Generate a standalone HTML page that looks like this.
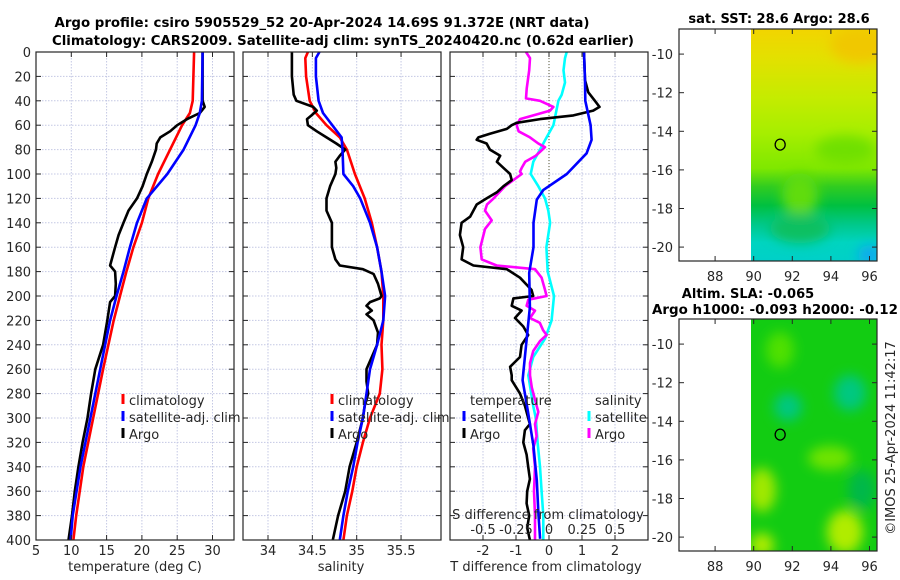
<!DOCTYPE html>
<html><head><meta charset="utf-8"><style>
body{margin:0;background:#fff;}
svg{display:block;font-family:"DejaVu Sans","Liberation Sans",sans-serif;}
</style></head><body>
<svg id="fig" width="900" height="580" viewBox="0 0 900 580" xmlns="http://www.w3.org/2000/svg">
<defs>
<linearGradient id="sstGrad" x1="0" y1="0" x2="0" y2="1">
<stop offset="0" stop-color="#f2d400"/><stop offset="0.12" stop-color="#e4e000"/>
<stop offset="0.3" stop-color="#c4ec00"/><stop offset="0.45" stop-color="#a6ee00"/>
<stop offset="0.6" stop-color="#7fe800"/><stop offset="0.68" stop-color="#30cc20"/>
<stop offset="0.76" stop-color="#00c040"/><stop offset="0.84" stop-color="#00c888"/>
<stop offset="0.92" stop-color="#00d4c0"/><stop offset="1" stop-color="#00d0c8"/>
</linearGradient>
<filter id="blur"><feGaussianBlur stdDeviation="6"/></filter>
<clipPath id="sstClip"><rect x="751" y="29" width="126" height="232"/></clipPath>
<clipPath id="slaClip"><rect x="751" y="319" width="126" height="232"/></clipPath>
</defs>
</svg>
<script>
// ---- data (depth in m) ----
const tDepth = [0,40,50,60,80,100,120,140,160,180,200,220,260,300,340,380,400];
const tClim  = [27.4,27.2,26.8,25.7,24.0,22.3,20.9,20.0,18.8,17.8,16.9,16.0,14.5,13.1,11.7,10.7,10.3];
const tSatDepth = [0,40,50,60,80,100,120,140,160,180,200,220,260,300,340,380,400];
const tSat   = [28.6,28.5,28.2,27.6,25.9,23.6,20.7,19.3,18.3,17.4,16.4,15.5,14.1,12.7,11.3,10.2,9.9];
const tArgoDepth = [0,40,45,50,55,60,65,70,75,80,90,100,110,120,130,140,150,160,175,180,190,200,205,220,240,260,280,300,320,340,360,380,400];
const tArgo  = [28.6,28.6,28.9,28.2,26.4,25.0,24.0,22.6,22.1,22.0,21.4,20.7,20.1,19.3,18.1,17.4,16.7,16.2,15.5,16.2,16.3,16.2,15.5,15.1,14.5,13.4,12.8,12.3,11.6,11.0,10.5,10.1,9.6];

const sClimDepth = [0,5,20,40,50,60,70,80,100,120,140,160,180,200,220,240,260,280,300,320,340,360,380,400];
const sClim = [34.45,34.42,34.43,34.47,34.54,34.66,34.81,34.89,34.98,35.09,35.17,35.23,35.28,35.30,35.30,35.28,35.29,35.26,35.15,35.07,35.00,34.95,34.89,34.85];
const sSatDepth = [0,5,20,40,50,70,80,100,110,120,140,160,180,200,220,240,260,280,300,320,340,360,380,400];
const sSat = [34.58,34.54,34.54,34.57,34.62,34.83,34.84,34.85,34.96,35.04,35.15,35.23,35.28,35.32,35.30,35.23,35.15,35.11,35.07,35.01,34.96,34.90,34.85,34.81];
const sArgoDepth = [0,20,35,40,45,48,52,55,60,65,70,75,80,85,90,95,100,110,120,130,140,160,170,175,178,182,190,200,202,205,208,212,215,220,230,240,250,260,270,280,290,300,320,340,360,380,400];
const sArgo = [34.27,34.27,34.29,34.32,34.51,34.55,34.49,34.44,34.45,34.55,34.66,34.77,34.87,34.81,34.76,34.77,34.76,34.70,34.66,34.66,34.72,34.72,34.76,34.81,35.07,35.19,35.24,35.28,35.26,35.15,35.11,35.17,35.11,35.19,35.24,35.23,35.17,35.11,35.11,35.13,35.09,35.07,35.00,34.92,34.87,34.79,34.73];

const dTSatDepth = [0,23,40,60,72,83,100,113,121,140,160,181,209,236,263,269,296,323,351,378,399];
const dTSat = [1.06,1.09,1.10,1.26,1.29,1.14,0.54,-0.17,-0.37,-0.47,-0.47,-0.60,-0.58,-0.68,-0.78,-0.80,-0.63,-0.47,-0.37,-0.32,-0.27];
const dTArgoDepth = [0,23,33,40,45,48,52,55,58,60,63,67,70,72,75,80,85,90,95,100,105,110,115,120,125,130,135,140,150,160,170,175,178,185,195,200,202,208,212,218,225,232,240,250,258,265,269,280,290,300,305,310,320,330,340,350,360,370,380,390,400];
const dTArgo = [1.06,1.09,1.19,1.39,1.53,1.34,0.74,-0.27,-0.98,-1.13,-1.28,-1.79,-2.14,-2.19,-1.89,-1.79,-1.48,-1.58,-1.38,-1.18,-1.13,-1.38,-1.58,-1.89,-2.19,-2.29,-2.39,-2.65,-2.70,-2.60,-2.65,-2.29,-1.28,-0.88,-0.53,-0.48,-1.08,-1.13,-0.83,-1.03,-0.78,-0.63,-0.83,-0.88,-1.18,-1.13,-1.13,-0.88,-0.73,-0.63,-0.58,-0.73,-0.78,-0.68,-0.63,-0.58,-0.66,-0.68,-0.60,-0.66,-0.58];
const dSSatDepth = [0,5,15,25,35,40,60,70,80,90,100,110,120,130,140,160,180,200,220,235,250,265,290,300,320,340,360,380,400];
const dSSat = [0.134,0.121,0.11,0.121,0.096,0.071,0.033,-0.018,-0.068,-0.119,-0.139,-0.081,-0.030,-0.005,0.008,-0.02,-0.01,0.038,0.02,-0.03,-0.12,-0.157,-0.12,-0.10,-0.086,-0.068,-0.056,-0.043,-0.043];
const dSArgoDepth = [0,5,15,30,38,40,45,48,52,55,60,65,70,75,78,82,85,90,95,98,100,105,110,120,125,130,138,145,160,170,175,178,185,195,200,203,208,212,218,222,228,232,237,245,255,265,275,285,295,305,315,325,340,360,380,400];
const dSArgo = [-0.174,-0.144,-0.15,-0.169,-0.174,-0.068,0.033,0.008,-0.119,-0.22,-0.245,-0.23,-0.144,-0.081,-0.03,-0.07,-0.1,-0.18,-0.207,-0.22,-0.207,-0.27,-0.333,-0.42,-0.47,-0.485,-0.434,-0.485,-0.52,-0.51,-0.396,-0.106,-0.056,-0.03,-0.018,-0.157,-0.17,-0.106,-0.144,-0.07,-0.045,-0.018,-0.068,-0.119,-0.144,-0.144,-0.13,-0.106,-0.081,-0.106,-0.094,-0.12,-0.106,-0.114,-0.106,-0.106];

const depthTicks = [0,20,40,60,80,100,120,140,160,180,200,220,240,260,280,300,320,340,360,380,400];
const tTicks = [5,10,15,20,25,30];
const sTicks = [34,34.5,35,35.5];
const dTTicks = [-2,-1,0,1,2];
const dTTickLabels = ["-2","-1","0","1","2"];
const dSTicks = [-0.5,-0.25,0,0.25,0.5];
const dSTickLabels = ["-0.5","-0.25","0","0.25","0.5"];
const lonTicks = [88,90,92,94,96];
const latTicks = [-10,-12,-14,-16,-18,-20];
const argoLon = 91.372, argoLat = -14.69;

// ---- scales ----
const PT=52, PB=540;
const yD = d => PT + d*(PB-PT)/400;
const xT = t => 36 + (t-5)*7.06;
const xS = s => 268 + (s-34)*88.7;
const xDT = t => 549 + t*33;
const xDS = s => 549 + s*132;
const mapLonX = lon => 679 + (lon-86.13)*19.3;
const mapLatY = (lat, top) => top + (-8.7-lat)*19.3;

const svg = document.getElementById('fig');
const NS = 'http://www.w3.org/2000/svg';
function mk(tag, attrs, parent){ const e=document.createElementNS(NS,tag); for(const k in attrs) e.setAttribute(k,attrs[k]); (parent||svg).appendChild(e); return e; }
function txt(x,y,s,attrs,parent){ const e=mk('text',Object.assign({x:x,y:y,'font-size':13,fill:'#262626'},attrs||{}),parent); e.textContent=s; return e; }

// ---- titles ----
let e;
e = txt(322,27,"Argo profile: csiro 5905529_52 20-Apr-2024 14.69S 91.372E (NRT data)",{'text-anchor':'middle','font-weight':'bold',fill:'#000',textLength:535,lengthAdjust:'spacingAndGlyphs'});
 
e = txt(343,45,"Climatology: CARS2009. Satellite-adj clim: synTS_20240420.nc (0.62d earlier)",{'text-anchor':'middle','font-weight':'bold',fill:'#000',textLength:582,lengthAdjust:'spacingAndGlyphs'});
 

// ---- panel builder ----
function panel(name, x0, x1, vTicks, xf){
  const g = mk('g',{});
  
  
  // grid
  depthTicks.forEach(d=>{ if(d>0&&d<400) mk('line',{x1:x0,x2:x1,y1:yD(d),y2:yD(d),stroke:'#c4c8e4','stroke-width':1,'stroke-dasharray':'1.5,1.5'},g); });
  vTicks.forEach(v=>{ const x=xf(v); if(x>x0+1&&x<x1-1) mk('line',{x1:x,x2:x,y1:PT,y2:PB,stroke:'#c4c8e4','stroke-width':1,'stroke-dasharray':'1.5,1.5'},g); });
  return g;
}
function frame(g,x0,x1,vTicks,xf){
  mk('rect',{x:x0,y:PT,width:x1-x0,height:PB-PT,fill:'none',stroke:'#262626','stroke-width':1.2},g);
  depthTicks.forEach(d=>{ const y=yD(d);
    mk('line',{x1:x0,x2:x0+5,y1:y,y2:y,stroke:'#262626'},g);
    mk('line',{x1:x1-5,x2:x1,y1:y,y2:y,stroke:'#262626'},g); });
  vTicks.forEach(v=>{ const x=xf(v);
    mk('line',{x1:x,x2:x,y1:PB,y2:PB-5,stroke:'#262626'},g);
    mk('line',{x1:x,x2:x,y1:PT,y2:PT+5,stroke:'#262626'},g); });
}
function series(g,depths,vals,xf,color,name){
  const pts = depths.map((d,i)=>xf(vals[i]).toFixed(1)+','+yD(d).toFixed(1)).join(' ');
  const p = mk('polyline',{points:pts,fill:'none',stroke:color,'stroke-width':2.6,'stroke-linejoin':'round'},g);
  
  
}
function legendEntry(g,x,y,color,label,name){
  const le = mk('g',{},g);
  
  
  mk('line',{x1:x,x2:x,y1:y-11,y2:y-1,stroke:color,'stroke-width':3},le);
  txt(x+6,y,label,{},le);
}

// Panel 1: temperature
let g1 = panel('temperature-panel',36,234,tTicks,xT);
series(g1,tDepth,tClim,xT,'#ff0000','temp-climatology-line');
series(g1,tArgoDepth,tArgo,xT,'#000000','temp-argo-line');
series(g1,tSatDepth,tSat,xT,'#0000ff','temp-satellite-line');
frame(g1,36,234,tTicks,xT);
depthTicks.forEach(d=>{ const t=txt(31,yD(d)+5,String(d),{'text-anchor':'end'},g1);   });
tTicks.forEach(v=>{ const t=txt(xT(v),555,String(v),{'text-anchor':'middle'},g1);   });
e=txt(135,571,"temperature (deg C)",{'text-anchor':'middle'},g1);  
legendEntry(g1,123,405,'#ff0000','climatology','legend-climatology');
legendEntry(g1,123,422,'#0000ff','satellite-adj. clim','legend-satellite-adj');
legendEntry(g1,123,439,'#000000','Argo','legend-argo');

// Panel 2: salinity
let g2 = panel('salinity-panel',243,441,sTicks,xS);
series(g2,sClimDepth,sClim,xS,'#ff0000','sal-climatology-line');
series(g2,sArgoDepth,sArgo,xS,'#000000','sal-argo-line');
series(g2,sSatDepth,sSat,xS,'#0000ff','sal-satellite-line');
frame(g2,243,441,sTicks,xS);
sTicks.forEach(v=>{ const t=txt(xS(v),555,String(v),{'text-anchor':'middle'},g2);   });
e=txt(341,571,"salinity",{'text-anchor':'middle'},g2);  
legendEntry(g2,332,405,'#ff0000','climatology','legend-climatology-2');
legendEntry(g2,332,422,'#0000ff','satellite-adj. clim','legend-satellite-adj-2');
legendEntry(g2,332,439,'#000000','Argo','legend-argo-2');

// Panel 3: differences
let g3 = panel('difference-panel',450,648,dTTicks,xDT);
mk('line',{x1:xDT(0),x2:xDT(0),y1:PT,y2:PB,stroke:'#555533','stroke-width':1,'stroke-dasharray':'1,2'},g3);
series(g3,dSSatDepth,dSSat,xDS,'#00ffff','sal-diff-satellite-line');
series(g3,dSArgoDepth,dSArgo,xDS,'#ff00ff','sal-diff-argo-line');
series(g3,dTArgoDepth,dTArgo,xDT,'#000000','temp-diff-argo-line');
series(g3,dTSatDepth,dTSat,xDT,'#0000ff','temp-diff-satellite-line');
frame(g3,450,648,dTTicks,xDT);
dTTicks.forEach((v,i)=>{ const t=txt(xDT(v),555,dTTickLabels[i],{'text-anchor':'middle'},g3);   });
dSTicks.forEach((v,i)=>{ const t=txt(xDS(v),534,dSTickLabels[i],{'text-anchor':'middle'},g3);   });
e=txt(548,519,"S difference from climatology",{'text-anchor':'middle'},g3);  
e=txt(546,571,"T difference from climatology",{'text-anchor':'middle'},g3);  
e=txt(470,405,"temperature",{},g3);  
e=txt(595,405,"salinity",{},g3);  
legendEntry(g3,464,422,'#0000ff','satellite','legend-temp-satellite');
legendEntry(g3,464,439,'#000000','Argo','legend-temp-argo');
legendEntry(g3,589,422,'#00ffff','satellite','legend-sal-satellite');
legendEntry(g3,589,439,'#ff00ff','Argo','legend-sal-argo');

// ---- maps ----
function mapAxes(g,top,lonLabY){
  mk('rect',{x:679,y:top,width:198,height:232,fill:'none',stroke:'#262626','stroke-width':1.2},g);
  lonTicks.forEach(l=>{ const x=mapLonX(l);
    mk('line',{x1:x,x2:x,y1:top+232,y2:top+227,stroke:'#262626'},g);
    mk('line',{x1:x,x2:x,y1:top,y2:top+5,stroke:'#262626'},g);
    const t=txt(x,lonLabY,String(l),{'text-anchor':'middle'},g);   });
  latTicks.forEach(l=>{ const y=mapLatY(l,top);
    mk('line',{x1:679,x2:684,y1:y,y2:y,stroke:'#262626'},g);
    mk('line',{x1:872,x2:877,y1:y,y2:y,stroke:'#262626'},g);
    const t=txt(673,y+5,String(l),{'text-anchor':'end'},g);   });
  const c=mk('ellipse',{cx:mapLonX(argoLon),cy:mapLatY(argoLat,top),rx:5,ry:5.5,fill:'none',stroke:'#000','stroke-width':1.3},g);
   
}
// SST map
let gm1 = mk('g',{});  
let gc1 = mk('g',{'clip-path':'url(#sstClip)'},gm1);
mk('rect',{x:751,y:29,width:126,height:232,fill:'url(#sstGrad)'},gc1);
let gb1 = mk('g',{filter:'url(#blur)'},gc1);
mk('ellipse',{cx:800,cy:195,rx:18,ry:22,fill:'#60dc10'},gb1);
mk('ellipse',{cx:845,cy:150,rx:30,ry:14,fill:'#70e000'},gb1);
mk('ellipse',{cx:800,cy:228,rx:30,ry:15,fill:'#10c060'},gb1);
mk('ellipse',{cx:870,cy:255,rx:12,ry:10,fill:'#10a8f0'},gb1);
mk('ellipse',{cx:860,cy:45,rx:30,ry:18,fill:'#f0c800'},gb1);
mapAxes(gm1,29,281);
e=txt(779,23,"sat. SST: 28.6 Argo: 28.6",{'text-anchor':'middle','font-weight':'bold',fill:'#000'},gm1);  

// SLA map
let gm2 = mk('g',{});  
let gc2 = mk('g',{'clip-path':'url(#slaClip)'},gm2);
mk('rect',{x:751,y:319,width:126,height:232,fill:'#12cc12'},gc2);
let gb2 = mk('g',{filter:'url(#blur)'},gc2);
mk('ellipse',{cx:780,cy:350,rx:14,ry:18,fill:'#50e000'},gb2);
mk('ellipse',{cx:788,cy:407,rx:14,ry:14,fill:'#00c880'},gb2);
mk('ellipse',{cx:850,cy:393,rx:16,ry:18,fill:'#00c880'},gb2);
mk('ellipse',{cx:830,cy:458,rx:22,ry:12,fill:'#70e400'},gb2);
mk('ellipse',{cx:762,cy:490,rx:14,ry:22,fill:'#a0e800'},gb2);
mk('ellipse',{cx:845,cy:532,rx:18,ry:22,fill:'#b0ec00'},gb2);
mk('ellipse',{cx:762,cy:545,rx:12,ry:12,fill:'#b0ec00'},gb2);
mk('ellipse',{cx:862,cy:490,rx:14,ry:20,fill:'#00b848'},gb2);
mapAxes(gm2,319,571);
e=txt(748,298,"Altim. SLA: -0.065",{'text-anchor':'middle','font-weight':'bold',fill:'#000'},gm2);  
e=txt(775,314,"Argo h1000: -0.093 h2000: -0.12",{'text-anchor':'middle','font-weight':'bold',fill:'#000',textLength:246,lengthAdjust:'spacingAndGlyphs'},gm2);  
e=txt(0,0,"©IMOS 25-Apr-2024 11:42:17",{'text-anchor':'middle',transform:'translate(895,438) rotate(-90)'});
 
</script>
</body></html>
